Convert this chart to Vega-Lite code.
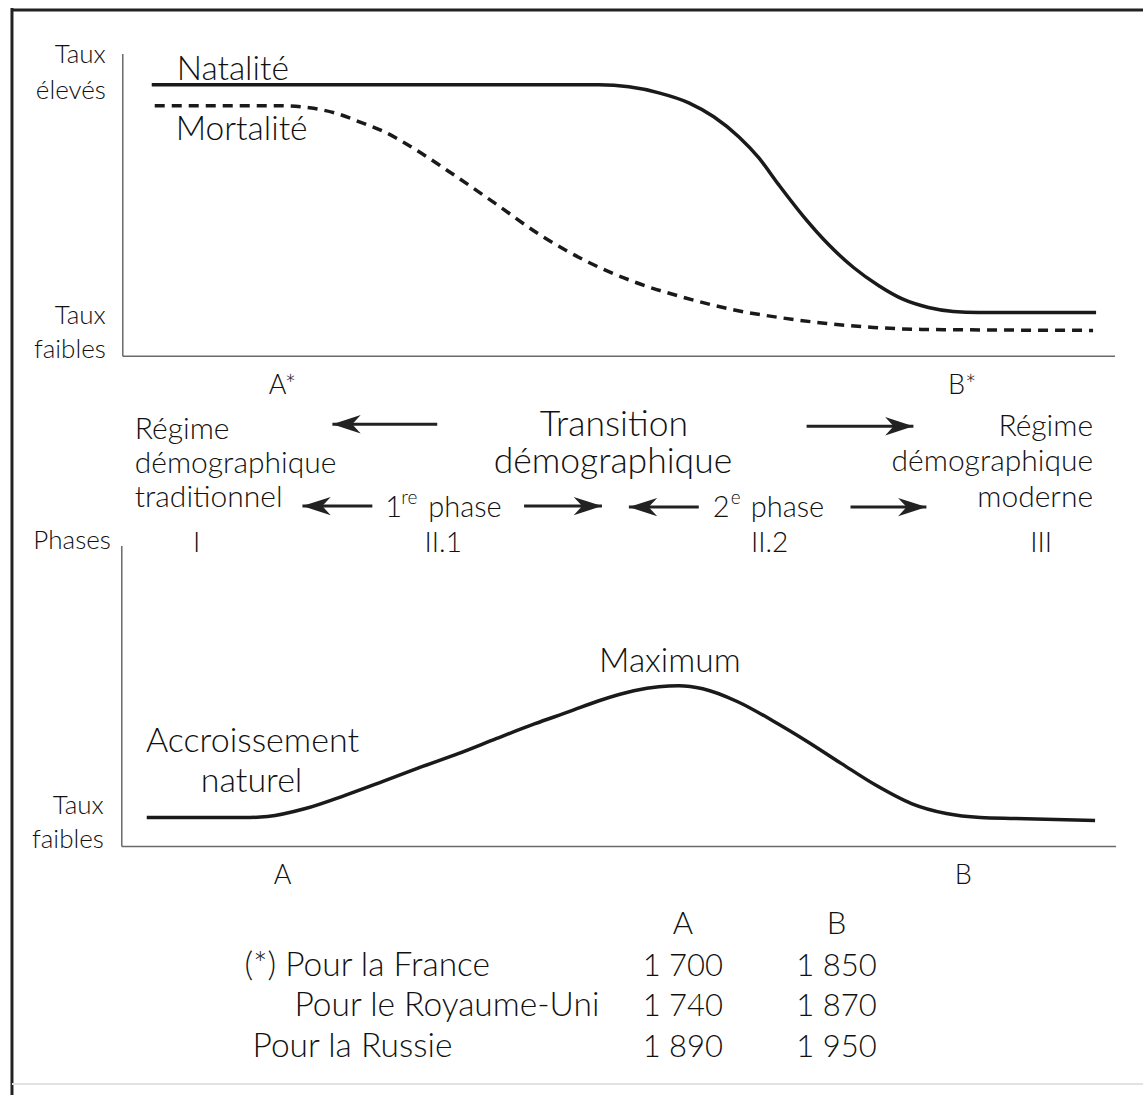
{
  "$schema": "https://vega.github.io/schema/vega-lite/v6.json",
  "width": 1145,
  "height": 1097,
  "autosize": {"type": "fit", "contains": "padding"},
  "padding": 0,
  "background": "white",
  "config": {"view": {"stroke": null}, "font": "Lato", "text": {"font": "Lato", "fontWeight": 300, "color": "#111", "baseline": "alphabetic"}},
  "encoding": {
    "x": {"field": "x", "type": "quantitative", "scale": {"domain": [0, 1145], "nice": false, "zero": false}, "axis": null},
    "y": {"field": "y", "type": "quantitative", "scale": {"domain": [0, 1097], "nice": false, "zero": false, "reverse": true}, "axis": null}
  },
  "layer": [
    {
      "data": {"values": [
        {"x": 12, "y": 8, "x2": 12, "y2": 1097},
        {"x": 12, "y": 10, "x2": 1145, "y2": 10}
      ]},
      "mark": {"type": "rule", "strokeWidth": 3, "color": "#222"},
      "encoding": {"x2": {"field": "x2"}, "y2": {"field": "y2"}}
    },
    {
      "data": {"values": [
        {"x": 12, "y": 1086, "x2": 1145, "y2": 1086}
      ]},
      "mark": {"type": "rule", "strokeWidth": 2, "color": "#e2e2e2"},
      "encoding": {"x2": {"field": "x2"}, "y2": {"field": "y2"}}
    },
    {
      "data": {"values": [
        {"x": 123, "y": 54, "x2": 123, "y2": 357},
        {"x": 123, "y": 357, "x2": 1117, "y2": 357},
        {"x": 122, "y": 547, "x2": 122, "y2": 848},
        {"x": 122, "y": 848, "x2": 1118, "y2": 848}
      ]},
      "mark": {"type": "rule", "strokeWidth": 1.5, "color": "#6a6a6a"},
      "encoding": {"x2": {"field": "x2"}, "y2": {"field": "y2"}}
    },
    {
      "data": {"values": [
        {"x": 152, "y": 85}, {"x": 400, "y": 85}, {"x": 600, "y": 85}, {"x": 630, "y": 87}, {"x": 660, "y": 93},
        {"x": 690, "y": 103}, {"x": 715, "y": 117}, {"x": 740, "y": 137}, {"x": 760, "y": 158}, {"x": 780, "y": 185},
        {"x": 805, "y": 217}, {"x": 830, "y": 245}, {"x": 855, "y": 268}, {"x": 880, "y": 286}, {"x": 905, "y": 300},
        {"x": 930, "y": 308}, {"x": 955, "y": 312}, {"x": 980, "y": 313}, {"x": 1098, "y": 313}
      ]},
      "mark": {"type": "line", "interpolate": "monotone", "strokeWidth": 3.5, "color": "#1a1a1a"}
    },
    {
      "data": {"values": [
        {"x": 155, "y": 106}, {"x": 280, "y": 106}, {"x": 310, "y": 108}, {"x": 335, "y": 113}, {"x": 360, "y": 122},
        {"x": 385, "y": 132}, {"x": 410, "y": 146}, {"x": 447, "y": 170}, {"x": 495, "y": 203}, {"x": 542, "y": 236},
        {"x": 590, "y": 263}, {"x": 637, "y": 283}, {"x": 685, "y": 298}, {"x": 733, "y": 310}, {"x": 780, "y": 318},
        {"x": 828, "y": 324}, {"x": 875, "y": 328}, {"x": 923, "y": 330}, {"x": 1095, "y": 331}
      ]},
      "mark": {"type": "line", "interpolate": "monotone", "strokeWidth": 3.5, "strokeDash": [10, 7], "color": "#1a1a1a"}
    },
    {
      "data": {"values": [
        {"x": 147, "y": 819}, {"x": 250, "y": 819}, {"x": 268, "y": 818}, {"x": 306, "y": 810}, {"x": 345, "y": 797},
        {"x": 383, "y": 783}, {"x": 420, "y": 769}, {"x": 459, "y": 755}, {"x": 497, "y": 740}, {"x": 536, "y": 725},
        {"x": 570, "y": 713}, {"x": 600, "y": 702}, {"x": 635, "y": 692}, {"x": 660, "y": 688}, {"x": 680, "y": 687},
        {"x": 704, "y": 690}, {"x": 739, "y": 703}, {"x": 774, "y": 722}, {"x": 809, "y": 743}, {"x": 843, "y": 765},
        {"x": 878, "y": 787}, {"x": 913, "y": 805}, {"x": 948, "y": 815}, {"x": 982, "y": 819}, {"x": 1017, "y": 820},
        {"x": 1097, "y": 822}
      ]},
      "mark": {"type": "line", "interpolate": "monotone", "strokeWidth": 3.5, "color": "#1a1a1a"}
    },
    {
      "data": {"values": [
        {"x": 333, "y": 425, "x2": 438, "y2": 425},
        {"x": 808, "y": 427, "x2": 915, "y2": 427},
        {"x": 303, "y": 507, "x2": 373, "y2": 507},
        {"x": 525, "y": 507, "x2": 603, "y2": 507},
        {"x": 630, "y": 508, "x2": 700, "y2": 508},
        {"x": 852, "y": 508, "x2": 928, "y2": 508}
      ]},
      "mark": {"type": "rule", "strokeWidth": 3, "color": "#222"},
      "encoding": {"x2": {"field": "x2"}, "y2": {"field": "y2"}}
    },
    {
      "data": {"values": [
        {"x": 333, "y": 425}, {"x": 303, "y": 507}, {"x": 630, "y": 508}
      ]},
      "mark": {"type": "point", "shape": "M0,0 L2,-0.65 L1.4,0 L2,0.65 Z", "size": 800, "filled": true, "color": "#222", "opacity": 1}
    },
    {
      "data": {"values": [
        {"x": 915, "y": 427}, {"x": 603, "y": 507}, {"x": 928, "y": 508}
      ]},
      "mark": {"type": "point", "shape": "M0,0 L-2,-0.65 L-1.4,0 L-2,0.65 Z", "size": 800, "filled": true, "color": "#222", "opacity": 1}
    },
    {
      "data": {"values": [
        {"x": 106, "y": 63, "text": "Taux"}, {"x": 106, "y": 99, "text": "élevés"},
        {"x": 106, "y": 325, "text": "Taux"}, {"x": 106, "y": 359, "text": "faibles"},
        {"x": 111, "y": 550, "text": "Phases"},
        {"x": 104, "y": 815, "text": "Taux"}, {"x": 104, "y": 850, "text": "faibles"}
      ]},
      "mark": {"type": "text", "align": "right", "fontSize": 26},
      "encoding": {"text": {"field": "text"}}
    },
    {
      "data": {"values": [
        {"x": 177, "y": 80, "text": "Natalité"}, {"x": 176, "y": 140, "text": "Mortalité"}
      ]},
      "mark": {"type": "text", "align": "left", "fontSize": 33.5},
      "encoding": {"text": {"field": "text"}}
    },
    {
      "data": {"values": [
        {"x": 283, "y": 395, "text": "A*"}, {"x": 964, "y": 395, "text": "B*"},
        {"x": 283, "y": 886, "text": "A"}, {"x": 965, "y": 886, "text": "B"}
      ]},
      "mark": {"type": "text", "align": "center", "fontSize": 27},
      "encoding": {"text": {"field": "text"}}
    },
    {
      "data": {"values": [
        {"x": 135, "y": 440, "text": "Régime"}, {"x": 135, "y": 474, "text": "démographique"}, {"x": 135, "y": 508, "text": "traditionnel"}
      ]},
      "mark": {"type": "text", "align": "left", "fontSize": 30},
      "encoding": {"text": {"field": "text"}}
    },
    {
      "data": {"values": [
        {"x": 1095, "y": 437, "text": "Régime"}, {"x": 1095, "y": 472, "text": "démographique"}, {"x": 1095, "y": 508, "text": "moderne"}
      ]},
      "mark": {"type": "text", "align": "right", "fontSize": 30},
      "encoding": {"text": {"field": "text"}}
    },
    {
      "data": {"values": [
        {"x": 615, "y": 437, "text": "Transition"}, {"x": 614, "y": 474, "text": "démographique"}
      ]},
      "mark": {"type": "text", "align": "center", "fontSize": 35.5},
      "encoding": {"text": {"field": "text"}}
    },
    {
      "data": {"values": [
        {"x": 386, "y": 518, "text": "1"}, {"x": 429, "y": 518, "text": "phase"},
        {"x": 714, "y": 518, "text": "2"}, {"x": 752, "y": 518, "text": "phase"}
      ]},
      "mark": {"type": "text", "align": "left", "fontSize": 29},
      "encoding": {"text": {"field": "text"}}
    },
    {
      "data": {"values": [
        {"x": 402, "y": 505, "text": "re"}, {"x": 732, "y": 505, "text": "e"}
      ]},
      "mark": {"type": "text", "align": "left", "fontSize": 19},
      "encoding": {"text": {"field": "text"}}
    },
    {
      "data": {"values": [
        {"x": 197, "y": 553, "text": "I"}, {"x": 444, "y": 553, "text": "II.1"},
        {"x": 771, "y": 553, "text": "II.2"}, {"x": 1043, "y": 553, "text": "III"}
      ]},
      "mark": {"type": "text", "align": "center", "fontSize": 28},
      "encoding": {"text": {"field": "text"}}
    },
    {
      "data": {"values": [
        {"x": 253, "y": 753, "text": "Accroissement"}, {"x": 252, "y": 793, "text": "naturel"}
      ]},
      "mark": {"type": "text", "align": "center", "fontSize": 34},
      "encoding": {"text": {"field": "text"}}
    },
    {
      "data": {"values": [
        {"x": 671, "y": 673, "text": "Maximum"}
      ]},
      "mark": {"type": "text", "align": "center", "fontSize": 33.5},
      "encoding": {"text": {"field": "text"}}
    },
    {
      "data": {"values": [
        {"x": 245, "y": 978, "text": "(*) Pour la France"},
        {"x": 295, "y": 1018, "text": "Pour le Royaume-Uni"},
        {"x": 253, "y": 1059, "text": "Pour la Russie"}
      ]},
      "mark": {"type": "text", "align": "left", "fontSize": 33.5},
      "encoding": {"text": {"field": "text"}}
    },
    {
      "data": {"values": [
        {"x": 684, "y": 936, "text": "A"}, {"x": 838, "y": 936, "text": "B"},
        {"x": 684, "y": 978, "text": "1 700"}, {"x": 838, "y": 978, "text": "1 850"},
        {"x": 684, "y": 1018, "text": "1 740"}, {"x": 838, "y": 1018, "text": "1 870"},
        {"x": 684, "y": 1059, "text": "1 890"}, {"x": 838, "y": 1059, "text": "1 950"}
      ]},
      "mark": {"type": "text", "align": "center", "fontSize": 31},
      "encoding": {"text": {"field": "text"}}
    }
  ]
}
